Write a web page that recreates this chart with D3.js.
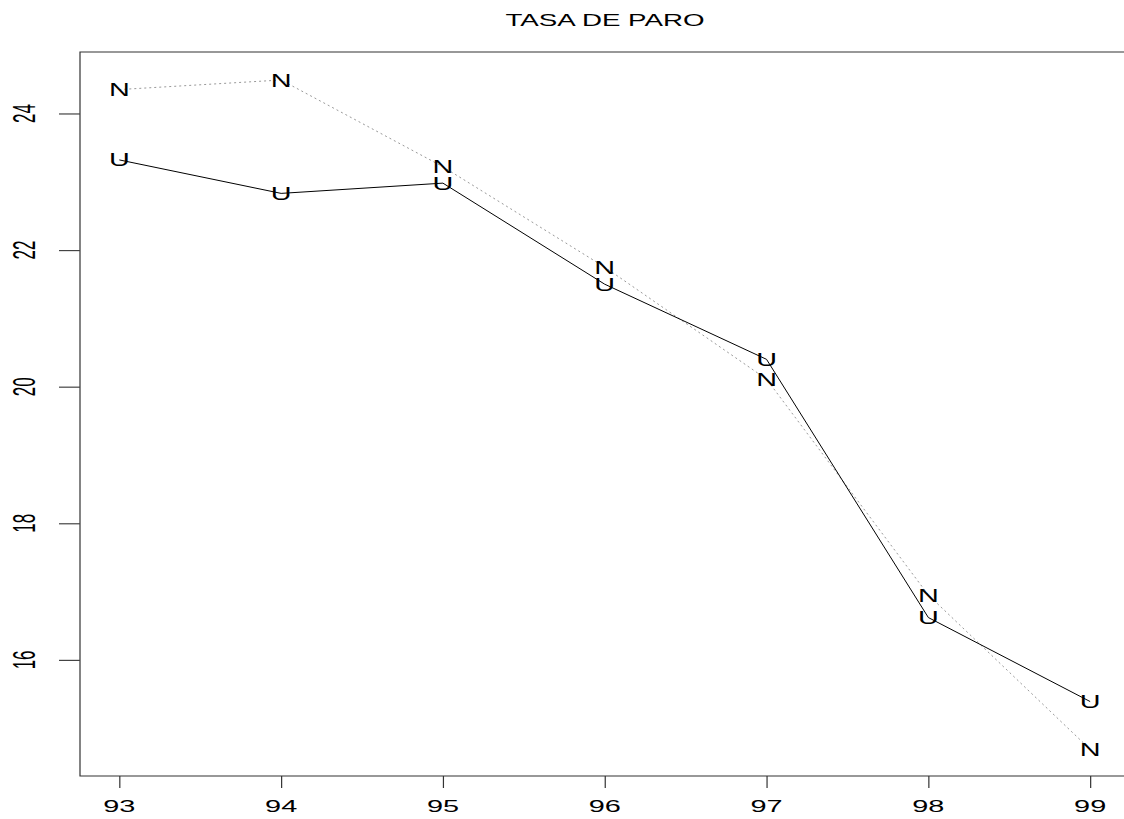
<!DOCTYPE html>
<html>
<head>
<meta charset="utf-8">
<script src="https://cdn.jsdelivr.net/npm/d3@7"></script>
<style>
html,body{margin:0;padding:0;background:#fff;}
text{font-family:"Liberation Sans",Arial,sans-serif;fill:#000;}
</style>
</head>
<body>
<svg id="chart" width="1124" height="819"></svg>
<script>
const years = [93, 94, 95, 96, 97, 98, 99];
const serieU = [23.32, 22.83, 22.98, 21.50, 20.40, 16.62, 15.39];
const serieN = [24.35, 24.49, 23.22, 21.75, 20.11, 16.95, 14.69];
const xTicks = [93, 94, 95, 96, 97, 98, 99];
const yTicks = [16, 18, 20, 22, 24];
const title = "TASA DE PARO";

const svg = d3.select("#chart");
const box = {left: 80, right: 1129, top: 52, bottom: 776};
const sx = 1.7; // horizontal stretch of glyphs

const x = d3.scaleLinear().domain([92.757, 99.24]).range([box.left, box.right]);
const y = d3.scaleLinear().domain([14.30, 24.90]).range([box.bottom, box.top]);

// box (left, top, bottom)
svg.append("path")
  .attr("d", `M${box.right},${box.top}H${box.left}V${box.bottom}H${box.right}`)
  .attr("fill", "none").attr("stroke", "#333").attr("stroke-width", 1.2);

// x axis
const xa = svg.append("g").attr("transform", `translate(0,${box.bottom})`)
  .call(d3.axisBottom(x).tickValues(xTicks).tickSize(12).tickFormat(d3.format("d")));
xa.select(".domain").remove();
xa.selectAll(".tick line").attr("stroke", "#333").attr("stroke-width", 1.2);
xa.selectAll(".tick text").remove();
xTicks.forEach(t => {
  svg.append("text")
    .attr("transform", `translate(${x(t)},812) scale(${sx},1)`)
    .attr("text-anchor", "middle").attr("font-size", 17).text(t);
});

// y axis
const ya = svg.append("g").attr("transform", `translate(${box.left},0)`)
  .call(d3.axisLeft(y).tickValues(yTicks).tickSize(21).tickFormat(d3.format("d")));
ya.select(".domain").remove();
ya.selectAll(".tick line").attr("stroke", "#444").attr("stroke-width", 1.2);
ya.selectAll(".tick text").remove();
yTicks.forEach(t => {
  svg.append("text")
    .attr("transform", `translate(35,${y(t)}) scale(1.8,1) rotate(-90)`)
    .attr("text-anchor", "middle").attr("font-size", 17).text(t);
});

// title
svg.append("text")
  .attr("transform", `translate(605,26) scale(1.65,1)`)
  .attr("text-anchor", "middle").attr("font-size", 16.8).text(title);

const line = d3.line().x((d, i) => x(years[i])).y(d => y(d));

// N series: dotted gray
svg.append("path").datum(serieN)
  .attr("d", line).attr("fill", "none")
  .attr("stroke", "#999").attr("stroke-width", 1).attr("stroke-dasharray", "2,3");
// U series: solid black
svg.append("path").datum(serieU)
  .attr("d", line).attr("fill", "none")
  .attr("stroke", "#000").attr("stroke-width", 1);

function markers(data, ch) {
  data.forEach((v, i) => {
    svg.append("text")
      .attr("transform", `translate(${x(years[i])},${y(v) + 6.5}) scale(1.6,1)`)
      .attr("text-anchor", "middle").attr("font-size", 18).text(ch);
  });
}
markers(serieN, "N");
markers(serieU, "U");
</script>
</body>
</html>
